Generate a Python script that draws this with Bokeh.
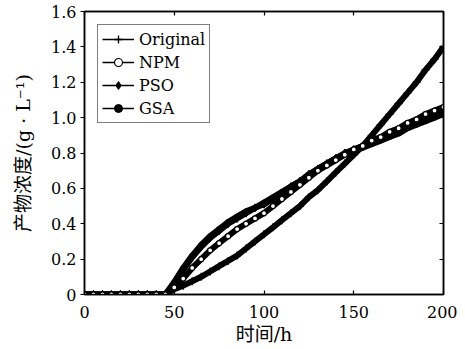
from bokeh.plotting import figure
from bokeh.models import (LinearAxis, CustomJSTickFormatter, FixedTicker, Legend, LegendItem,
                          ColumnDataSource, Range1d)
from bokeh.embed import file_html
from bokeh.resources import INLINE

# ---- data ----
time_h = [0, 5, 10, 15, 20, 25, 30, 35, 40, 45,
          50, 55, 60, 65, 70, 75, 80, 85, 90, 95,
          100, 105, 110, 115, 120, 125, 130, 135, 140, 145,
          150, 155, 160, 165, 170, 175, 180, 185, 190, 195, 200]
original = [0, 0, 0, 0, 0, 0, 0, 0, 0, 0,
            0.03, 0.05, 0.075, 0.10, 0.13, 0.16, 0.19, 0.22, 0.26, 0.30,
            0.34, 0.38, 0.42, 0.46, 0.50, 0.55, 0.59, 0.64, 0.69, 0.74,
            0.79, 0.84, 0.90, 0.96, 1.02, 1.08, 1.14, 1.20, 1.27, 1.33, 1.40]
npm = [0, 0, 0, 0, 0, 0, 0, 0, 0, 0,
       0.04, 0.09, 0.15, 0.20, 0.25, 0.29, 0.33, 0.37, 0.40, 0.43,
       0.46, 0.50, 0.54, 0.58, 0.62, 0.66, 0.70, 0.73, 0.76, 0.79,
       0.82, 0.84, 0.87, 0.89, 0.92, 0.94, 0.97, 0.99, 1.02, 1.04, 1.06]
pso = [0, 0, 0, 0, 0, 0, 0, 0, 0, 0,
       0.06, 0.14, 0.21, 0.27, 0.32, 0.36, 0.40, 0.43, 0.46, 0.49,
       0.51, 0.54, 0.57, 0.61, 0.64, 0.68, 0.71, 0.74, 0.77, 0.80,
       0.82, 0.84, 0.86, 0.88, 0.91, 0.93, 0.95, 0.97, 0.99, 1.02, 1.04]
gsa = [0, 0, 0, 0, 0, 0, 0, 0, 0, 0,
       0.07, 0.15, 0.22, 0.28, 0.33, 0.37, 0.41, 0.44, 0.47, 0.49,
       0.52, 0.55, 0.58, 0.61, 0.64, 0.67, 0.71, 0.74, 0.77, 0.79,
       0.81, 0.83, 0.85, 0.87, 0.89, 0.91, 0.94, 0.96, 0.98, 1.00, 1.02]
series_names = ["Original", "NPM", "PSO", "GSA"]
x_ticks = [0, 50, 100, 150, 200]
y_ticks = [0, 0.2, 0.4, 0.6, 0.8, 1.0, 1.2, 1.4, 1.6]
x_label = "时间/h"
y_label = "产物浓度/(g · L⁻¹)"

SERIF = "DejaVu Serif, Noto Sans CJK SC"

p = figure(width=457, height=347, output_backend="svg", toolbar_location=None,
           x_range=Range1d(0, 200), y_range=Range1d(0, 1.6),
           min_border_left=84, min_border_right=14, min_border_top=11, min_border_bottom=49)
p.background_fill_color = "white"
p.border_fill_color = "white"
p.grid.visible = False
p.outline_line_color = "black"
p.outline_line_width = 1.5

fmt_y = CustomJSTickFormatter(code="return tick == 0 ? '0' : tick.toFixed(1);")
fmt_x = CustomJSTickFormatter(code="return tick.toFixed(0);")
blank = CustomJSTickFormatter(code="return '';")

def style(ax, ticks, fmt, t_in, t_out):
    ax.ticker = FixedTicker(ticks=ticks)
    ax.formatter = fmt
    ax.minor_tick_line_color = None
    ax.major_tick_in = t_in
    ax.major_tick_out = t_out
    ax.axis_line_color = "black"
    ax.axis_line_width = 1.5
    ax.major_tick_line_color = "black"
    ax.major_tick_line_width = 1.2
    ax.major_label_text_font = SERIF
    ax.major_label_text_font_size = "16px"
    ax.major_label_text_color = "black"
    ax.axis_label_text_font = SERIF
    ax.axis_label_text_font_size = "19px"
    ax.axis_label_text_font_style = "normal"
    ax.axis_label_text_color = "black"

style(p.xaxis[0], x_ticks, fmt_x, 4, 0)
p.xaxis[0].axis_label = x_label
p.xaxis[0].major_label_standoff = 11
p.xaxis[0].axis_label_standoff = 2
style(p.yaxis[0], y_ticks, fmt_y, 0, 4)
p.yaxis[0].axis_label = y_label
p.yaxis[0].major_label_standoff = 4
p.yaxis[0].axis_label_standoff = 14

top = LinearAxis()
style(top, x_ticks, blank, 4, 0)
top.major_label_standoff = 0
p.add_layout(top, "above")
right = LinearAxis()
style(right, y_ticks, blank, 4, 0)
right.major_label_standoff = 0
p.add_layout(right, "right")

src = ColumnDataSource(dict(t=time_h, original=original, npm=npm, pso=pso, gsa=gsa))

# thick bands (dense markers in the original)
LW = 6
for col in ["original", "gsa", "pso", "npm"]:
    p.line("t", col, source=src, line_color="black", line_width=LW)

# thin lines + markers (also used for the legend)
marker_style = {"original": dict(marker="cross", size=8, line_color="black", line_width=1.3),
                "pso": dict(marker="diamond", size=8, color="black"),
                "gsa": dict(marker="circle", size=5, color="black"),
                "npm": dict(marker="circle", size=5, line_color="black",
                            fill_color="white", line_width=1.2)}
leg_r = {}
for col in ["original", "pso", "gsa", "npm"]:
    lr = p.line("t", col, source=src, line_color="black", line_width=1.3)
    sr = p.scatter("t", col, source=src, **marker_style[col])
    leg_r[col] = [lr, sr]

items = [LegendItem(label=name, renderers=leg_r[name.lower()]) for name in series_names]

leg = Legend(items=items, location="top_left")
leg.margin = 13
leg.padding = 4
leg.spacing = 3
leg.glyph_width = 32
leg.glyph_height = 20
leg.label_height = 20
leg.label_standoff = 5
leg.label_text_font = SERIF
leg.label_text_font_size = "16px"
leg.label_text_color = "black"
leg.border_line_color = "black"
leg.border_line_width = 1.2
leg.background_fill_alpha = 1
p.add_layout(leg, "center")

open("out.html", "w").write(file_html(p, INLINE))
